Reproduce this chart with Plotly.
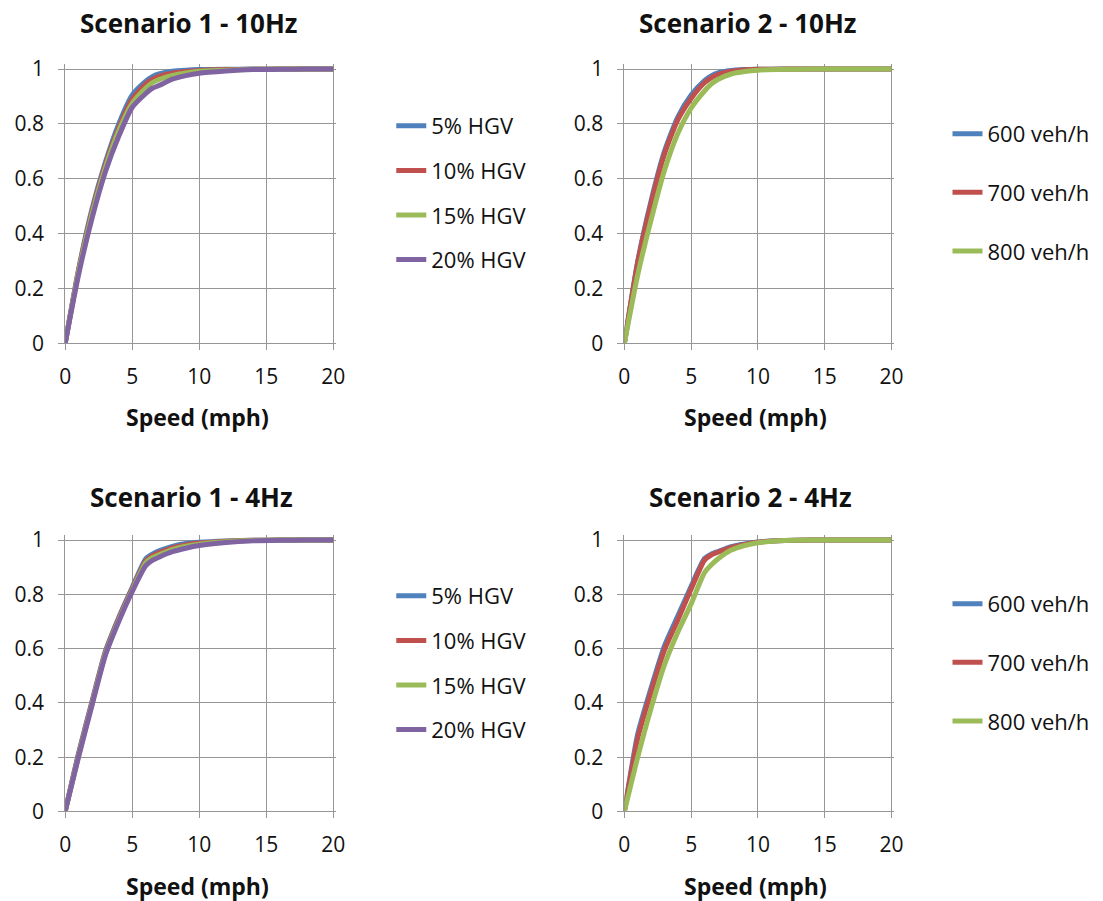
import plotly.graph_objects as go

# Speed grid (mph) shared by every cumulative curve
speed = [0, 1, 2, 3, 4, 5, 6, 6.5, 7, 8, 9, 10, 12, 14, 16, 18, 20]

# Scenario 1 - 10Hz : cumulative proportion by HGV share
s1_10_hgv5 = [0, 0.27, 0.49, 0.66, 0.80, 0.905, 0.955, 0.972, 0.982, 0.992, 0.996, 0.998, 0.999, 1, 1, 1, 1]
s1_10_hgv10 = [0, 0.265, 0.48, 0.65, 0.785, 0.89, 0.945, 0.962, 0.973, 0.985, 0.991, 0.995, 0.998, 0.999, 1, 1, 1]
s1_10_hgv15 = [0, 0.26, 0.47, 0.64, 0.775, 0.875, 0.93, 0.95, 0.962, 0.977, 0.986, 0.992, 0.996, 0.999, 1, 1, 1]
s1_10_hgv20 = [0, 0.25, 0.455, 0.625, 0.755, 0.86, 0.91, 0.93, 0.94, 0.963, 0.976, 0.985, 0.993, 0.998, 0.999, 1, 1]

# Scenario 2 - 10Hz : cumulative proportion by flow
s2_10_600 = [0, 0.30, 0.52, 0.70, 0.825, 0.905, 0.958, 0.975, 0.986, 0.995, 0.998, 0.999, 1, 1, 1, 1, 1]
s2_10_700 = [0, 0.295, 0.51, 0.69, 0.815, 0.893, 0.95, 0.968, 0.98, 0.992, 0.997, 0.999, 1, 1, 1, 1, 1]
s2_10_800 = [0, 0.25, 0.45, 0.63, 0.765, 0.858, 0.92, 0.945, 0.962, 0.982, 0.991, 0.996, 0.999, 1, 1, 1, 1]

# Scenario 1 - 4Hz
s1_4_hgv5 = [0, 0.215, 0.405, 0.59, 0.715, 0.825, 0.93, 0.948, 0.96, 0.977, 0.987, 0.992, 0.997, 0.999, 1, 1, 1]
s1_4_hgv10 = [0, 0.21, 0.40, 0.585, 0.71, 0.82, 0.922, 0.942, 0.953, 0.971, 0.982, 0.989, 0.996, 0.999, 1, 1, 1]
s1_4_hgv15 = [0, 0.205, 0.395, 0.58, 0.705, 0.815, 0.915, 0.935, 0.946, 0.965, 0.977, 0.985, 0.994, 0.998, 1, 1, 1]
s1_4_hgv20 = [0, 0.20, 0.39, 0.575, 0.70, 0.81, 0.905, 0.925, 0.937, 0.957, 0.97, 0.98, 0.991, 0.997, 0.999, 1, 1]

# Scenario 2 - 4Hz
s2_4_600 = [0, 0.285, 0.455, 0.61, 0.72, 0.83, 0.932, 0.948, 0.958, 0.976, 0.986, 0.993, 0.998, 1, 1, 1, 1]
s2_4_700 = [0, 0.27, 0.44, 0.595, 0.705, 0.82, 0.926, 0.945, 0.955, 0.973, 0.984, 0.992, 0.998, 1, 1, 1, 1]
s2_4_800 = [0, 0.20, 0.38, 0.54, 0.66, 0.765, 0.88, 0.908, 0.93, 0.963, 0.98, 0.99, 0.998, 1, 1, 1, 1]

hgv_labels = ["5% HGV", "10% HGV", "15% HGV", "20% HGV"]
flow_labels = ["600 veh/h", "700 veh/h", "800 veh/h"]
titles = ["Scenario 1 - 10Hz", "Scenario 2 - 10Hz", "Scenario 1 - 4Hz", "Scenario 2 - 4Hz"]
x_ticks = [0, 5, 10, 15, 20]
y_ticks = [0, 0.2, 0.4, 0.6, 0.8, 1]

colors = ["#4F81BD", "#C0504D", "#9BBB59", "#8064A2"]
FONT = "Open Sans, Noto Sans, sans-serif"

# figure size and the page offset/scale used to place elements by page pixel
W, H = 1103, 915
PAGE_PAD = 8
KX, KY = 0.986, 0.978

def px_x(p):
    return (p / KX - PAGE_PAD) / W

def px_y(p):
    return 1 - (p / KY - PAGE_PAD) / H

panels = [
    # (series, labels, xaxis, yaxis, legend id)
    ([s1_10_hgv5, s1_10_hgv10, s1_10_hgv15, s1_10_hgv20], hgv_labels, "x", "y", "legend"),
    ([s2_10_600, s2_10_700, s2_10_800], flow_labels, "x2", "y2", "legend2"),
    ([s1_4_hgv5, s1_4_hgv10, s1_4_hgv15, s1_4_hgv20], hgv_labels, "x3", "y3", "legend3"),
    ([s2_4_600, s2_4_700, s2_4_800], flow_labels, "x4", "y4", "legend4"),
]

fig = go.Figure()
for pi, (series, labels, xa, ya, lg) in enumerate(panels):
    for i, (vals, name) in enumerate(zip(series, labels)):
        fig.add_trace(go.Scatter(
            x=speed, y=vals, name=name, mode="lines",
            line=dict(color=colors[i], width=5, shape="spline", smoothing=0.6),
            xaxis=xa, yaxis=ya, legend=lg, legendgroup=f"p{pi}_{i}",
            showlegend=True,
        ))

# plot-area placement in page pixels: x of 0 / 20 and y of 1 / 0
left_x = (67, 335)
right_x = (626, 893)
top_y = (68, 343)
bot_y = (540, 812)

def x_domain(lo_hi):
    lo, hi = lo_hi
    per = (hi - lo) / 20
    return [px_x(lo), px_x(hi + 0.2 * per)]

def y_domain(top_bot):
    top, bot = top_bot
    per = (bot - top)
    return [px_y(bot), px_y(bot - 1.02 * per)]

grid = "#969696"
tickfont = dict(family=FONT, size=21, color="#111111")
axis_common = dict(
    showgrid=True, gridcolor=grid, gridwidth=1, zeroline=False,
    showline=True, linecolor=grid, linewidth=1,
    ticks="outside", ticklen=6, tickcolor=grid, tickfont=tickfont,
    fixedrange=True,
)

layout = dict(
    width=W, height=H, margin=dict(l=0, r=0, t=0, b=0),
    paper_bgcolor="white", plot_bgcolor="white",
    font=dict(family=FONT),
)

domains = [
    (left_x, top_y), (right_x, top_y), (left_x, bot_y), (right_x, bot_y),
]
for k, (xd, yd) in enumerate(domains):
    sx = "" if k == 0 else str(k + 1)
    layout[f"xaxis{sx}"] = dict(axis_common, domain=x_domain(xd), range=[0, 20.2],
                                tickvals=x_ticks, anchor=f"y{sx}", ticklabelstandoff=8)
    layout[f"yaxis{sx}"] = dict(axis_common, domain=y_domain(yd), range=[0, 1.02],
                                tickvals=y_ticks, anchor=f"x{sx}", ticklabelstandoff=10)

legend_common = dict(
    font=dict(family=FONT, size=22, color="#111111"),
    bgcolor="rgba(0,0,0,0)", borderwidth=0,
    xanchor="left", yanchor="top", traceorder="grouped",
)
layout["legend"] = dict(legend_common, x=px_x(393), y=px_y(104), tracegroupgap=13)
layout["legend2"] = dict(legend_common, x=px_x(949), y=px_y(112), tracegroupgap=27)
layout["legend3"] = dict(legend_common, x=px_x(393), y=px_y(575), tracegroupgap=13)
layout["legend4"] = dict(legend_common, x=px_x(949), y=px_y(583), tracegroupgap=27)

fig.update_layout(**layout)

# panel titles and axis titles
title_pos = [(190, 22), (749, 22), (193, 497), (752, 497)]
for t, (cx, cy) in zip(titles, title_pos):
    fig.add_annotation(text=f"<b>{t}</b>", x=px_x(cx), y=px_y(cy), xref="paper", yref="paper",
                       showarrow=False, xanchor="center", yanchor="middle",
                       font=dict(family=FONT, size=26, color="#111111"))

xlabel_pos = [(199, 417), (757, 417), (199, 887), (757, 887)]
for cx, cy in xlabel_pos:
    fig.add_annotation(text="<b>Speed (mph)</b>", x=px_x(cx), y=px_y(cy), xref="paper", yref="paper",
                       showarrow=False, xanchor="center", yanchor="middle",
                       font=dict(family=FONT, size=23, color="#111111"))

fig.write_html("out.html")
